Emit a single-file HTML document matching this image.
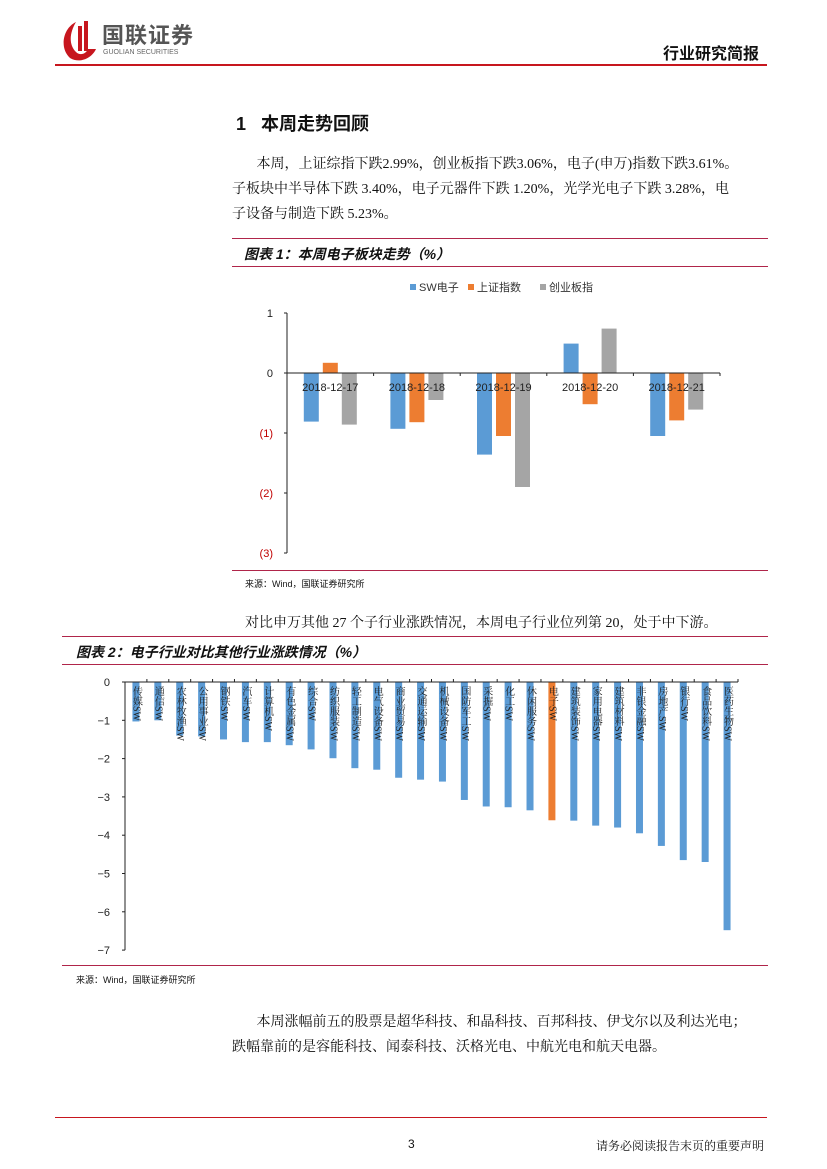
<!DOCTYPE html>
<html><head><meta charset="utf-8"><style>
body{margin:0;background:#fff;}
#page{position:relative;width:827px;height:1169px;overflow:hidden;font-family:"Liberation Sans","Noto Sans CJK SC",sans-serif;color:#111;}
.t{position:absolute;white-space:nowrap;}
.serif{font-family:"Liberation Serif","Noto Serif CJK SC",serif;}
.line{position:absolute;height:1px;background:#b0254a;}
</style></head><body>
<div id="page">
<svg class="t" style="left:58px;top:18px" width="44" height="44">
<path d="M18 4 C5 10 1 30 12 40 C22 46 34 40 38 31 L30 31 C28 36 22 38 18 34 C10 26 12 14 18 4Z" fill="#c7161e"/>
<rect x="20" y="8" width="4" height="25" fill="#c7161e"/><rect x="26" y="3" width="4" height="30" fill="#c7161e"/></svg>
<div class="t" style="left:102px;top:24px;font-size:22px;line-height:24px;font-weight:bold;color:#555;letter-spacing:1px">国联证券</div>
<div class="t" style="left:103px;top:49px;font-size:7px;line-height:8px;color:#666">GUOLIAN SECURITIES</div>
<div class="t" style="left:663px;top:40px;font-size:16px;font-weight:bold">行业研究简报</div>
<div class="line" style="left:55px;top:64px;width:712px;height:2px;background:#c7161e"></div>

<div class="t" style="left:236px;top:110px;font-size:18px;font-weight:bold">1&nbsp;&nbsp;&nbsp;本周走势回顾</div>
<div class="t serif" style="left:232px;top:152px;font-size:14px;line-height:25px">&nbsp;&nbsp;&nbsp;&nbsp;&nbsp;&nbsp;&nbsp;本周，上证综指下跌2.99%，创业板指下跌3.06%，电子(申万)指数下跌3.61%。<br>子板块中半导体下跌 3.40%，电子元器件下跌 1.20%，光学光电子下跌 3.28%，电<br>子设备与制造下跌 5.23%。</div>

<div class="line" style="left:232px;top:238px;width:536px"></div>
<div class="t" style="left:244px;top:244px;font-size:14px;font-weight:bold;font-style:italic">图表 1：本周电子板块走势（%）</div>
<div class="line" style="left:232px;top:266px;width:536px"></div>
<svg class="t" style="left:0;top:0" width="827" height="1169" id="c1"></svg>
<div class="line" style="left:232px;top:570px;width:536px"></div>
<div class="t" style="left:245px;top:577px;font-size:9px">来源：Wind，国联证券研究所</div>

<div class="t serif" style="left:245px;top:612px;font-size:14px">对比申万其他 27 个子行业涨跌情况，本周电子行业位列第 20，处于中下游。</div>
<div class="line" style="left:62px;top:636px;width:706px"></div>
<div class="t" style="left:76px;top:642px;font-size:14px;font-weight:bold;font-style:italic">图表 2：电子行业对比其他行业涨跌情况（%）</div>
<div class="line" style="left:62px;top:664px;width:706px"></div>
<div class="line" style="left:62px;top:965px;width:706px"></div>
<div class="t" style="left:76px;top:973px;font-size:9px">来源：Wind，国联证券研究所</div>

<div class="t serif" style="left:232px;top:1010px;font-size:14px;line-height:25px">&nbsp;&nbsp;&nbsp;&nbsp;&nbsp;&nbsp;&nbsp;本周涨幅前五的股票是超华科技、和晶科技、百邦科技、伊戈尔以及利达光电；<br>跌幅靠前的是容能科技、闻泰科技、沃格光电、中航光电和航天电器。</div>

<div class="line" style="left:55px;top:1117px;width:712px;background:#c7161e"></div>
<div class="t" style="left:408px;top:1137px;font-size:12px">3</div>
<div class="t serif" style="left:596px;top:1137px;font-size:12px">请务必阅读报告末页的重要声明</div>
</div>
<script>
const NS="http://www.w3.org/2000/svg";
const dates=["2018-12-17","2018-12-18","2018-12-19","2018-12-20","2018-12-21"];
const seriesNames=["SW电子","上证指数","创业板指"];
const swDianzi=[-0.81,-0.93,-1.36,0.49,-1.05];
const shangzheng=[0.17,-0.82,-1.05,-0.52,-0.79];
const chuangye=[-0.86,-0.45,-1.90,0.74,-0.61];
const c1Ticks=[1,0,-1,-2,-3];
const c1TickLabels=["1","0","(1)","(2)","(3)"];
const industries=["传媒SW","通信SW","农林牧渔SW","公用事业SW","钢铁SW","汽车SW","计算机SW","有色金属SW","综合SW","纺织服装SW","轻工制造SW","电气设备SW","商业贸易SW","交通运输SW","机械设备SW","国防军工SW","采掘SW","化工SW","休闲服务SW","电子SW","建筑装饰SW","家用电器SW","建筑材料SW","非银金融SW","房地产SW","银行SW","食品饮料SW","医药生物SW"];
const changes=[-1.03,-1.0,-1.4,-1.42,-1.5,-1.57,-1.57,-1.65,-1.76,-1.99,-2.25,-2.29,-2.5,-2.55,-2.6,-3.08,-3.25,-3.27,-3.35,-3.61,-3.62,-3.75,-3.8,-3.95,-4.28,-4.65,-4.7,-6.48];
const c2Ticks=[0,-1,-2,-3,-4,-5,-6,-7];

function mk(p,tag,a){const e=document.createElementNS(NS,tag);for(const k in a)e.setAttribute(k,a[k]);p.appendChild(e);return e;}
const svg=document.getElementById('c1');
const F='"Liberation Sans","Noto Sans CJK SC",sans-serif';
const y1=v=>373-v*60, x0=287, cw=(720-287)/5;
const colors=["#5b9bd5","#ed7d31","#a5a5a5"];
const allS=[swDianzi,shangzheng,chuangye];
seriesNames.forEach((n,i)=>{const lx=[410,468,540][i];
 const r=mk(svg,'rect',{x:lx,y:284,width:6,height:6,fill:colors[i]});
 
 
 const t=mk(svg,'text',{x:lx+9,y:291,'font-size':11,'font-family':F,fill:'#333'});t.textContent=n;
 
 });
mk(svg,'line',{x1:x0,y1:y1(1),x2:x0,y2:y1(-3),stroke:'#222','stroke-width':1});
c1Ticks.forEach((v,i)=>{mk(svg,'line',{x1:x0-3,y1:y1(v),x2:x0,y2:y1(v),stroke:'#222'});
 const t=mk(svg,'text',{x:273,y:y1(v)+4,'font-size':11,'text-anchor':'end','font-family':F,fill:v<0?'#c00000':'#222'});t.textContent=c1TickLabels[i];
 
 });
dates.forEach((d,ci)=>{allS.forEach((s,si)=>{const cx=x0+cw*(ci+0.5)+(si-1)*19;const v=s[ci];
 const r=mk(svg,'rect',{x:cx-7.5,y:Math.min(y1(v),y1(0)),width:15,height:Math.abs(y1(v)-y1(0)),fill:colors[si]});
 
 });});
mk(svg,'line',{x1:x0,y1:y1(0),x2:720,y2:y1(0),stroke:'#222'});
dates.forEach((d,ci)=>{mk(svg,'line',{x1:x0+cw*(ci+1),y1:y1(0),x2:x0+cw*(ci+1),y2:y1(0)+3,stroke:'#222'});
 const t=mk(svg,'text',{x:x0+cw*(ci+0.5),y:y1(0)+18,'font-size':11,'text-anchor':'middle','font-family':F,fill:'#222'});t.textContent=d;
 
 });
const y2=v=>682-v*38.3, x2=125, cw2=(738-125)/28;
mk(svg,'line',{x1:x2,y1:y2(0),x2:x2,y2:y2(-7),stroke:'#222'});
c2Ticks.forEach(v=>{mk(svg,'line',{x1:x2-3,y1:y2(v),x2:x2,y2:y2(v),stroke:'#222'});
 const t=mk(svg,'text',{x:110,y:y2(v)+4,'font-size':11,'text-anchor':'end','font-family':F,fill:'#222'});t.textContent=v===0?'0':'−'+(-v);
 
 });
industries.forEach((n,i)=>{const cx=x2+cw2*(i+0.5),v=changes[i];
 const r=mk(svg,'rect',{x:cx-3.5,y:y2(0),width:7,height:y2(v)-y2(0),fill:n==='电子SW'?'#ed7d31':'#5b9bd5'});
 
 
 const t=mk(svg,'text',{x:cx,y:y2(0)+4,'font-size':10,'font-family':'"Liberation Serif","Noto Serif CJK SC",serif',fill:'#222',style:'writing-mode:vertical-rl'});t.textContent=n;
 
 
 mk(svg,'line',{x1:x2+cw2*(i+1),y1:y2(0),x2:x2+cw2*(i+1),y2:y2(0)-3,stroke:'#222'});});
mk(svg,'line',{x1:x2,y1:y2(0),x2:738,y2:y2(0),stroke:'#222'});
</script>
</body></html>
